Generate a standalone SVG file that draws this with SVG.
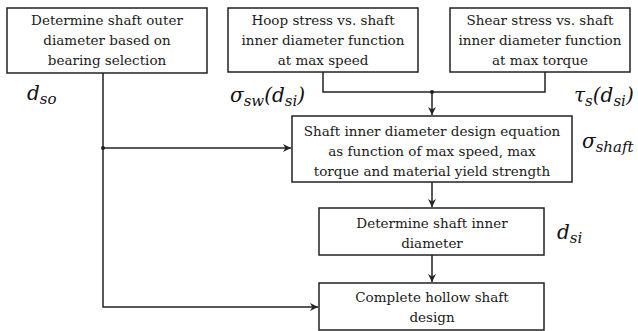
<svg xmlns="http://www.w3.org/2000/svg" width="638" height="331" viewBox="0 0 638 331">
<defs>
<style>
.box{fill:#fff;stroke:#222;stroke-width:1.5}
.t{font-family:"DejaVu Serif","Liberation Serif",serif;font-size:13.5px;fill:#1a1a1a;text-anchor:middle}
.m{font-family:"DejaVu Serif","Liberation Serif",serif;font-style:italic;font-size:20px;fill:#111}
.s{font-size:15px}
.ln{fill:none;stroke:#222;stroke-width:1.5}
</style>
<marker id="ah" viewBox="0 0 10 10" refX="10" refY="5" markerWidth="8" markerHeight="8" markerUnits="userSpaceOnUse" orient="auto">
<path d="M0,0 L10,5 L0,10 L3,5 Z" fill="#222"/>
</marker>
</defs>
<rect width="638" height="331" fill="#fff"/>

<g id="connectors">
<path class="ln" d="M103,73 V307 H318" marker-end="url(#ah)"/>
<path class="ln" d="M103,148 H291" marker-end="url(#ah)"/>
<path class="ln" d="M323,72 V92 H545 V72"/>
<path class="ln" d="M432,92 V115" marker-end="url(#ah)"/>
<path class="ln" d="M432,182 V207" marker-end="url(#ah)"/>
<path class="ln" d="M432,255 V282" marker-end="url(#ah)"/>
<circle cx="103" cy="148" r="2" fill="#222"/>
<circle cx="432" cy="92" r="2" fill="#222"/>
</g>

<g id="bearing">
<rect class="box" x="7" y="8" width="200" height="65"/>
<text class="t" x="107" y="25">Determine  shaft outer</text>
<text class="t" x="107" y="45">diameter  based on</text>
<text class="t" x="107" y="65">bearing selection</text>
</g>

<g id="hoop">
<rect class="box" x="228" y="8" width="190" height="64"/>
<text class="t" x="323" y="25">Hoop stress vs. shaft</text>
<text class="t" x="323" y="45">inner diameter  function</text>
<text class="t" x="323" y="65">at max  speed</text>
</g>

<g id="shear">
<rect class="box" x="450" y="8" width="180" height="64"/>
<text class="t" x="540" y="25">Shear stress vs. shaft</text>
<text class="t" x="540" y="45">inner diameter  function</text>
<text class="t" x="540" y="65">at max  torque</text>
</g>

<g id="design-eq">
<rect class="box" x="292" y="116" width="280" height="66"/>
<text class="t" x="432" y="136">Shaft inner  diameter  design equation</text>
<text class="t" x="432" y="156">as function of max  speed, max</text>
<text class="t" x="432" y="176">torque and material  yield  strength</text>
</g>

<g id="inner-dia">
<rect class="box" x="319" y="208" width="225" height="47"/>
<text class="t" x="432" y="228">Determine  shaft inner</text>
<text class="t" x="432" y="248">diameter</text>
</g>

<g id="complete">
<rect class="box" x="319" y="283" width="225" height="47"/>
<text class="t" x="432" y="302">Complete  hollow shaft</text>
<text class="t" x="432" y="322">design</text>
</g>

<g id="labels">
<text class="m" x="27" y="100">d<tspan class="s" dy="4">so</tspan></text>
<text class="m" x="230" y="102">σ<tspan class="s" dy="4">sw</tspan><tspan dy="-4">(d</tspan><tspan class="s" dy="4">si</tspan><tspan dy="-4">)</tspan></text>
<text class="m" x="574" y="102">τ<tspan class="s" dy="4">s</tspan><tspan dy="-4">(d</tspan><tspan class="s" dy="4">si</tspan><tspan dy="-4">)</tspan></text>
<text class="m" x="582" y="148">σ<tspan class="s" dy="4">shaft</tspan></text>
<text class="m" x="557" y="239">d<tspan class="s" dy="4">si</tspan></text>
</g>
</svg>
